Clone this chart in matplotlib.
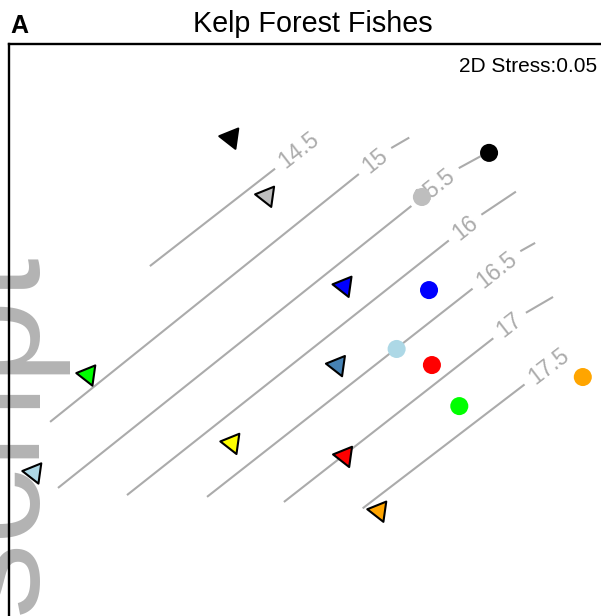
import matplotlib
matplotlib.use('Agg')
import matplotlib.pyplot as plt
import numpy as np

plt.rcParams['font.family'] = ['Liberation Sans', 'DejaVu Sans']

# NMDS scores
tri_x = [-0.357, -0.221, 0.073, -0.900, -1.105, 0.048, 0.075, 0.205, -0.353]
tri_y = [0.832, 0.604, 0.251, -0.097, -0.481, -0.060, -0.416, -0.631, -0.365]
tri_col = ['black', '#BEBEBE', '#0000FF', '#00FF00', '#ADD8E6',
           '#4682B4', '#FF0000', '#FFA500', '#FFFF00']

dot_x = [0.623, 0.368, 0.395, 0.272, 0.406, 0.510, 0.979]
dot_y = [0.773, 0.600, 0.235, 0.004, -0.059, -0.220, -0.106]
dot_col = ['black', '#BEBEBE', '#0000FF', '#ADD8E6', '#FF0000', '#00FF00', '#FFA500']

# fitted surface contours (ordisurf style): start, label spot, end
levels = [14.5, 15, 15.5, 16, 16.5, 17, 17.5]
c_x0 = [-0.665, -1.044, -1.014, -0.752, -0.448, -0.156, 0.143]
c_y0 = [0.329, -0.282, -0.541, -0.569, -0.576, -0.596, -0.621]
c_lx = [-0.099, 0.190, 0.418, 0.532, 0.651, 0.701, 0.849]
c_ly = [0.784, 0.741, 0.639, 0.480, 0.314, 0.096, -0.063]
c_x1 = [-0.099, 0.320, 0.634, 0.725, 0.798, 0.866, 0.849]
c_y1 = [0.784, 0.833, 0.784, 0.621, 0.420, 0.208, -0.063]

GREY = '#ABABAB'
W, H = 601, 616

fig = plt.figure(figsize=(W / 100, H / 100), dpi=100)
fig.patch.set_facecolor('white')
ax = fig.add_axes([9 / W, 1 - 656 / H, 632 / W, 612 / H])
ax.patch.set_visible(False)
ax.set_xlim(-1.2, 1.2)
ax.set_ylim(-1.2, 1.2)
ax.set_xticks([])
ax.set_yticks([])
for sp in ax.spines.values():
    sp.set_linewidth(1.7)

fig.canvas.draw()
renderer = fig.canvas.get_renderer()
to_disp = ax.transData
to_data = ax.transData.inverted()

for lev, x0, y0, lx, ly, x1, y1 in zip(levels, c_x0, c_y0, c_lx, c_ly, c_x1, c_y1):
    p0 = to_disp.transform((x0, y0))
    pl = to_disp.transform((lx, ly))
    p1 = to_disp.transform((x1, y1))
    u = (pl - p0) / np.hypot(*(pl - p0))
    ang = np.degrees(np.arctan2(u[1], u[0]))
    t = ax.text(lx, ly, f'{lev:g}', fontsize=16.5, color=GREY, ha='center',
                va='center', rotation_mode='anchor', zorder=2)
    w = t.get_window_extent(renderer).width
    t.set_rotation(ang)
    half = w / 2 + 8
    a = to_data.transform(pl - u * half)
    ax.plot([x0, a[0]], [y0, a[1]], color=GREY, lw=1.5, zorder=1,
            solid_capstyle='butt')
    if np.dot(p1 - pl, u) > half:
        b = to_data.transform(pl + u * half)
        ax.plot([b[0], x1], [b[1], y1], color=GREY, lw=1.5, zorder=1,
                solid_capstyle='butt')

ax.scatter(tri_x, tri_y, s=17 ** 2, marker=(3, 0, 82), c=tri_col,
           edgecolors='black', linewidths=1.5, zorder=3)
ax.scatter(dot_x, dot_y, s=13 ** 2, marker='o', c=dot_col,
           edgecolors='none', zorder=3)

ax.text(597 / W, 1 - 72 / H, '2D Stress:0.05', transform=fig.transFigure,
        ha='right', va='baseline', fontsize=15, zorder=4)

fig.text(313 / W, 1 - 31.7 / H, 'Kelp Forest Fishes', ha='center',
         va='baseline', fontsize=20.7)
fig.text(10 / W, 1 - 33.3 / H, 'A', ha='left', va='baseline', fontsize=18,
         fontweight='bold')

# big leftover axis label, clipped by the figure edge
fig.text(36 / W, 1 - 252 / H, 'script', fontsize=109, color='#B3B3B3',
         rotation=90, rotation_mode='anchor', ha='right', va='baseline',
         zorder=-1)

fig.savefig('out.png', dpi=100, facecolor='white')
